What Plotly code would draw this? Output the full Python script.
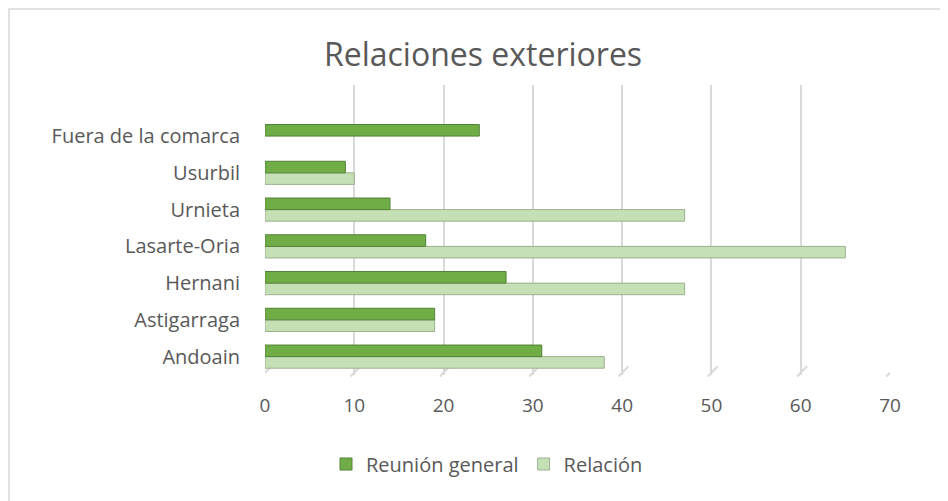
import plotly.graph_objects as go

categories = ["Andoain", "Astigarraga", "Hernani", "Lasarte-Oria", "Urnieta", "Usurbil", "Fuera de la comarca"]
reunion_general = [31, 19, 27, 18, 14, 9, 24]
relacion = [38, 19, 47, 65, 47, 10, 0]
x_ticks = [0, 10, 20, 30, 40, 50, 60, 70]

TEXT = "#595959"
FONT = "Open Sans"
# the page body adds an 8px margin, so the figure is drawn 8px smaller
W, H = 940, 493
L, R, T, B = 257, 58, 77, 126
PW, PH = W - L - R, H - T - B

fig = go.Figure()
fig.add_trace(go.Bar(
    y=categories, x=relacion, orientation="h", name="Relación",
    marker=dict(color="#C5E0B4",
                line=dict(color="#9DB08F", width=[0 if v == 0 else 1 for v in relacion])),
    legendrank=2,
))
fig.add_trace(go.Bar(
    y=categories, x=reunion_general, orientation="h", name="Reunión general",
    marker=dict(color="#70AD47",
                line=dict(color="#548235", width=[0 if v == 0 else 1 for v in reunion_general])),
    legendrank=1,
))

# floor ticks for the pseudo-3D look
for t in x_ticks:
    fig.add_shape(type="line", xref="x", yref="paper", x0=t + 0.7, x1=t - 0.4,
                  y0=0.03, y1=-0.005, line=dict(color="#d9d9d9", width=2), layer="below")

# chart border (left and top edges visible)
fig.add_shape(type="rect", xref="paper", yref="paper",
              x0=(1 - L) / PW, x1=2,
              y0=-2, y1=(H - B - 1) / PH,
              line=dict(color="#d9d9d9", width=1.5), layer="below")

fig.update_layout(
    width=W, height=H,
    margin=dict(l=L, r=R, t=T, b=B, autoexpand=False),
    paper_bgcolor="white", plot_bgcolor="white",
    barmode="group", bargap=0.37, bargroupgap=0,
    title=dict(text="Relaciones exteriores", x=475 / W, xanchor="center",
               y=1 - 47 / H, yanchor="middle", xref="container", yref="container",
               font=dict(family=FONT, size=32, color=TEXT)),
    font=dict(family=FONT, size=19, color=TEXT),
    xaxis=dict(range=[0, 70], tickvals=x_ticks, showgrid=True, gridcolor="#d9d9d9",
               gridwidth=2, zeroline=False, showline=False, ticks="outside",
               ticklen=13, tickcolor="rgba(0,0,0,0)",
               tickfont=dict(family=FONT, size=19, color=TEXT)),
    yaxis=dict(range=[-0.5, 7.39], showgrid=False, zeroline=False, showline=False,
               ticks="outside", ticklen=20, tickcolor="rgba(0,0,0,0)",
               tickfont=dict(family=FONT, size=20, color=TEXT)),
    legend=dict(orientation="h", xref="container", yref="container",
                x=479 / W, xanchor="center", y=1 - 456 / H, yanchor="middle",
                font=dict(family=FONT, size=20, color=TEXT), itemwidth=30),
    showlegend=True,
)

fig.write_html("out.html")
